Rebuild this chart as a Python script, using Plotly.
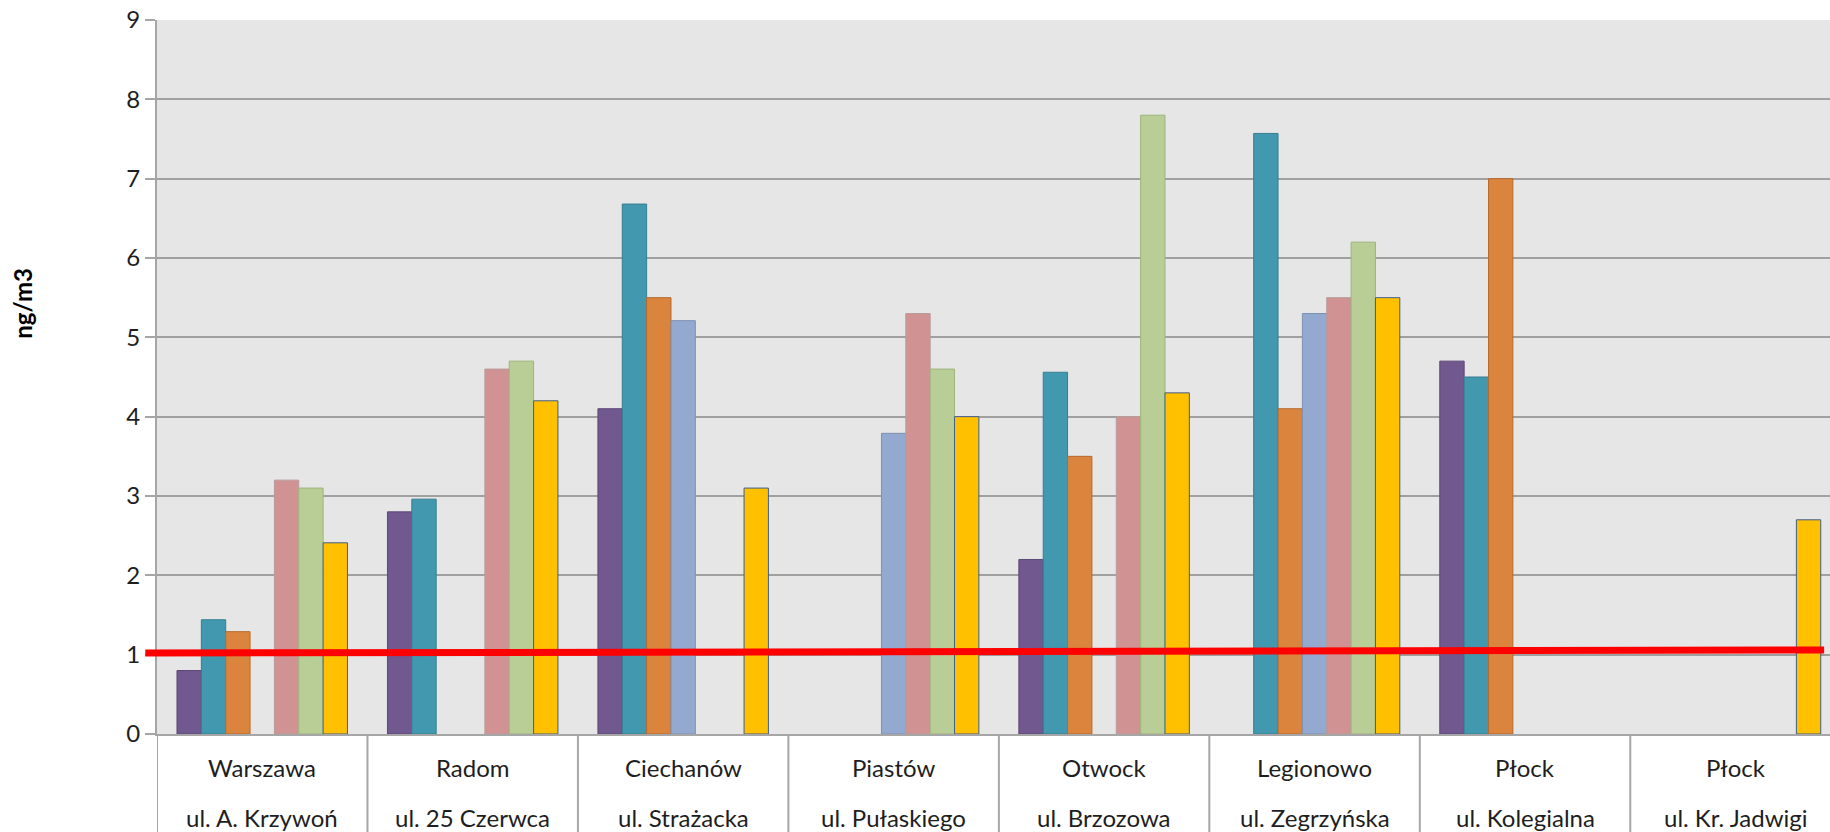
import plotly.graph_objects as go

# Measuring stations: city (first label row) and street (second label row)
cities = ["Warszawa", "Radom", "Ciechanów", "Piastów", "Otwock", "Legionowo", "Płock", "Płock"]
streets = ["ul. A. Krzywoń", "ul. 25 Czerwca", "ul. Strażacka", "ul. Pułaskiego",
           "ul. Brzozowa", "ul. Zegrzyńska", "ul. Kolegialna", "ul. Kr. Jadwigi"]

# Annual mean concentrations [ng/m3], one list per series (None = no measurement)
series_1 = [0.80, 2.80, 4.10, None, 2.20, None, 4.70, None]
series_2 = [1.44, 2.96, 6.68, None, 4.56, 7.57, 4.50, None]
series_3 = [1.29, None, 5.50, None, 3.50, 4.10, 7.00, None]
series_4 = [None, None, 5.21, 3.79, None, 5.30, None, None]
series_5 = [3.20, 4.60, None, 5.30, 4.00, 5.50, None, None]
series_6 = [3.10, 4.70, None, 4.60, 7.80, 6.20, None, None]
series_7 = [2.41, 4.20, 3.10, 4.00, 4.30, 5.50, None, 2.70]

# Target value line (start / end level)
limit_y = [1.02, 1.06]

y_ticks = [0, 1, 2, 3, 4, 5, 6, 7, 8, 9]

series = [series_1, series_2, series_3, series_4, series_5, series_6, series_7]
fills = ["#71588F", "#4198AF", "#DB843D", "#93A9D0", "#D09292", "#B9CD96", "#FFC000"]
edges = ["#5C4776", "#357E92", "#B56A2E", "#7F90B2", "#B99C9C", "#9FB47F", "#3F5F8A"]

FONT = "Lato"
GRID = "#A0A0A0"
AXIS = "#A6A6A6"
TEXT = "#1E1E1E"

positions = list(range(len(cities)))
x_range = [-0.5, 7.449]

fig = go.Figure()
for i, (vals, fc, ec) in enumerate(zip(series, fills, edges)):
    fig.add_trace(go.Bar(
        x=positions, y=vals, name=f"Seria {i + 1}",
        marker=dict(color=fc, line=dict(color=ec, width=1)),
        showlegend=False,
    ))

shapes = []
# Table-style separators below the category axis
for i in range(len(cities)):
    shapes.append(dict(type="line", xref="x", yref="paper",
                       x0=i - 0.5, x1=i - 0.5, y0=0, y1=-0.2,
                       line=dict(color=AXIS, width=2), layer="above"))
# Target value line
shapes.append(dict(type="line", xref="paper", yref="y",
                   x0=-0.007, x1=0.9965, y0=limit_y[0], y1=limit_y[1],
                   line=dict(color="#FF0000", width=7), layer="above"))

annotations = []
for i, (c, s) in enumerate(zip(cities, streets)):
    annotations.append(dict(x=i, y=-0.0467, xref="x", yref="paper", text=c,
                            showarrow=False, xanchor="center", yanchor="middle",
                            font=dict(family=FONT, size=24, color=TEXT)))
    annotations.append(dict(x=i, y=-0.1167, xref="x", yref="paper", text=s,
                            showarrow=False, xanchor="center", yanchor="middle",
                            font=dict(family=FONT, size=24, color=TEXT)))
annotations.append(dict(x=-0.0805, y=0.603, xref="paper", yref="paper",
                        text="<b>ng/m3</b>", textangle=-90, showarrow=False,
                        xanchor="center", yanchor="middle",
                        font=dict(family=FONT, size=24, color="#000000")))

fig.update_layout(
    width=1830, height=832,
    margin=dict(l=157, r=0, t=20, b=98, pad=0),
    paper_bgcolor="white", plot_bgcolor="#E6E6E6",
    barmode="group", bargap=0.19, bargroupgap=0,
    shapes=shapes, annotations=annotations,
    xaxis=dict(range=x_range, showticklabels=False, showgrid=False, zeroline=False,
               showline=True, linecolor=AXIS, linewidth=2, ticks="", fixedrange=True),
    yaxis=dict(range=[0, 9], tickvals=y_ticks, showgrid=True, gridcolor=GRID, gridwidth=1.5,
               zeroline=False, showline=True, linecolor=AXIS, linewidth=2,
               ticks="outside", ticklen=10, tickwidth=2, tickcolor=AXIS,
               tickfont=dict(family=FONT, size=24, color=TEXT), fixedrange=True),
)

fig.write_html("out.html")
